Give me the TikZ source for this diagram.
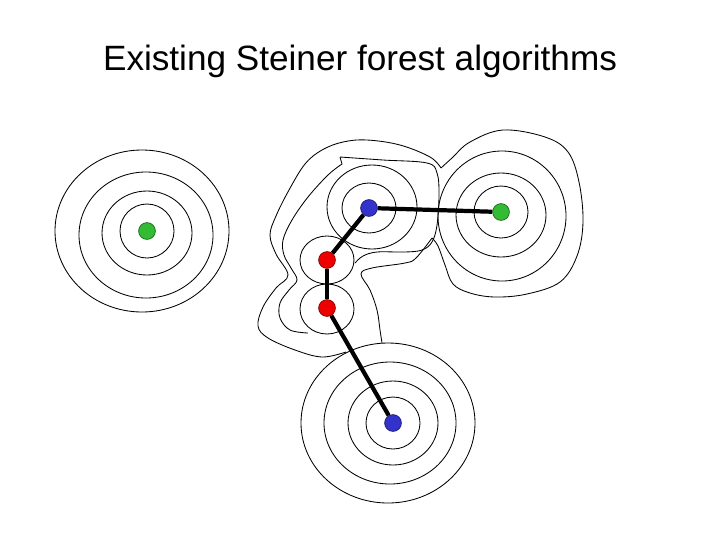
\documentclass[tikz,border=0pt]{standalone}
\usepackage{fontspec}
\setmainfont{Liberation Sans}
\usepackage{xcolor}
\usepackage{tikz}
\definecolor{dotgreen}{RGB}{51,187,51}
\definecolor{dotblue}{RGB}{51,51,204}
\definecolor{dotred}{RGB}{238,0,0}

\begin{document}
\begin{tikzpicture}[
    x=0.025cm, y=-0.025cm,
    ring/.style={draw=black, line width=0.6pt},
    vtx/.style={circle, inner sep=0pt, minimum size=4.2mm, line width=0.5pt},
    greendot/.style={vtx, fill=dotgreen, draw=dotgreen!55!black},
    bluedot/.style={vtx, fill=dotblue, draw=dotblue!55!black},
    reddot/.style={vtx, fill=dotred, draw=dotred!55!black},
    link/.style={line width=3pt, draw=black}
  ]
    \useasboundingbox (0,0) rectangle (720,540);
    \node[font=\fontsize{25}{30}\selectfont, anchor=base] (title) at (360,70) {Existing Steiner forest algorithms};

    \draw[ring] (147,231) ellipse [x radius=27, y radius=27];
    \draw[ring] (147,233) ellipse [x radius=45, y radius=42];
    \draw[ring] (146,235) ellipse [x radius=67, y radius=63];
    \draw[ring] (142,231) ellipse [x radius=87, y radius=81];

    \draw[ring] (501,212) ellipse [x radius=27, y radius=26];
    \draw[ring] (501,215) ellipse [x radius=45, y radius=42];
    \draw[ring] (502,216) ellipse [x radius=64, y radius=65];

    \draw[ring] (393,423) ellipse [x radius=27, y radius=26];
    \draw[ring] (393,423) ellipse [x radius=45, y radius=42];
    \draw[ring] (390,423) ellipse [x radius=66, y radius=61];
    \draw[ring] (388,423) ellipse [x radius=87, y radius=80];

    \draw[ring] (369,208) ellipse [x radius=27, y radius=25];
    \draw[ring] (372,207) ellipse [x radius=45, y radius=42];
    \draw[ring] (327,260) ellipse [x radius=27, y radius=24];
    \draw[ring] (327,309) ellipse [x radius=27, y radius=25];

    \draw[ring] plot[smooth, tension=0.6] coordinates {(308,333) (290,330) (280,318) (280,303) (289,290) (297,280) (291,268) (284,255) (283,240) (292,220) (308,197) (328,175) (342,164)}
      -- (340,157) plot[smooth, tension=0.6] coordinates {(340,157) (383,160) (427,163) (437,173) (439,195) (437,225) (432,242) (422,250) (405,252) (377,252) (363,256) (355,263)};

    \draw[ring] plot[smooth, tension=0.6] coordinates {(441,168) (430,157) (400,145) (367,140) (343,142) (322,150) (305,164) (289,190) (276,216) (270,235) (276,254) (288,275) (276,288) (263,307) (258,326) (268,338) (295,350) (322,357) (346,352)};
    \draw[ring] plot[smooth, tension=0.6] coordinates {(382,343) (380,330) (377,310) (370,290) (361,274) (372,268) (405,263) (416,258) (432,238)};
    \draw[ring] plot[smooth, tension=0.6] coordinates {(441,168) (452,158) (470,142) (503,130) (545,137) (568,152) (579,182) (583,222) (577,256) (560,282) (527,294) (495,297) (470,293) (453,284) (445,265) (438,246) (432,238)};

    \node[greendot] (g1) at (147,231) {};
    \node[bluedot] (b1) at (369,208) {};
    \node[greendot] (g2) at (501,212) {};
    \node[reddot] (r1) at (327,260) {};
    \node[reddot] (r2) at (327,308) {};
    \node[bluedot] (b2) at (393,423) {};

    \draw[link] (b1) -- (g2);
    \draw[link] (b1) -- (r1);
    \draw[link] (r1) -- (r2);
    \draw[link] (r2) -- (b2);
  \end{tikzpicture}
\end{document}
